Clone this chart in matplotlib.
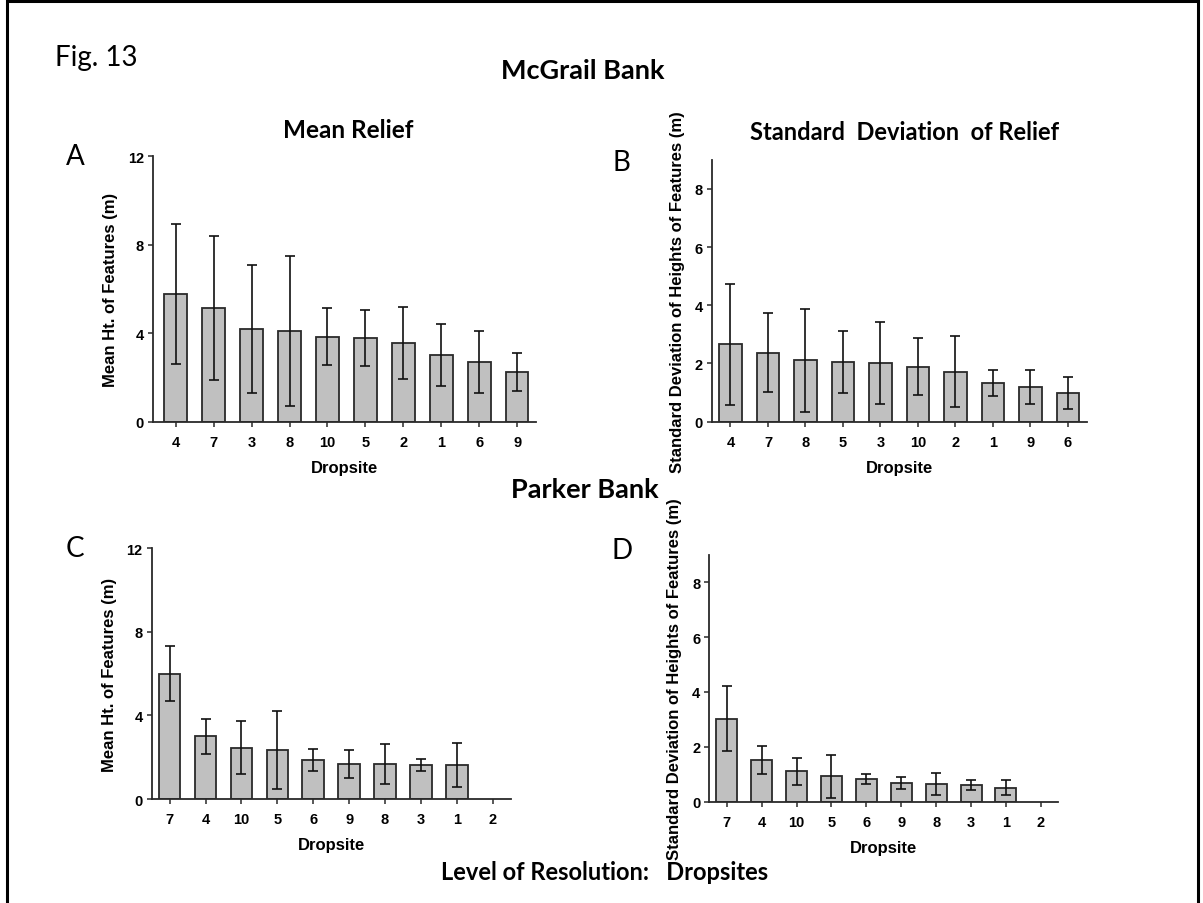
import matplotlib.pyplot as plt
import matplotlib.patches as mpatches
import numpy as np

# McGrail Bank - mean relief
mcg_mean_sites = ['4', '7', '3', '8', '10', '5', '2', '1', '6', '9']
mcg_mean = [5.78, 5.14, 4.18, 4.12, 3.85, 3.79, 3.56, 3.00, 2.71, 2.26]
mcg_mean_err = [3.17, 3.25, 2.89, 3.39, 1.28, 1.25, 1.63, 1.40, 1.41, 0.85]

# McGrail Bank - standard deviation of relief
mcg_sd_sites = ['4', '7', '8', '5', '3', '10', '2', '1', '9', '6']
mcg_sd = [2.66, 2.37, 2.11, 2.06, 2.02, 1.89, 1.72, 1.33, 1.20, 0.99]
mcg_sd_err = [2.07, 1.36, 1.77, 1.07, 1.40, 0.97, 1.22, 0.46, 0.58, 0.55]

# Parker Bank (dropsite 2 has no value)
pkr_sites = ['7', '4', '10', '5', '6', '9', '8', '3', '1', '2']
pkr_mean = [6.00, 3.00, 2.46, 2.35, 1.87, 1.68, 1.68, 1.63, 1.63, np.nan]
pkr_mean_err = [1.32, 0.84, 1.26, 1.86, 0.53, 0.65, 0.96, 0.30, 1.03, np.nan]
pkr_sd = [3.02, 1.52, 1.11, 0.92, 0.83, 0.69, 0.64, 0.60, 0.51, np.nan]
pkr_sd_err = [1.19, 0.50, 0.50, 0.77, 0.18, 0.22, 0.39, 0.19, 0.28, np.nan]

mean_label = 'Mean Ht. of Features (m)'
sd_label = 'Standard Deviation of Heights of Features (m)'

num_font = 'Liberation Sans'
txt_font = 'Lato'
edge = '#2a2a2a'

fig = plt.figure(figsize=(12.03, 9.04), dpi=100)

# frame round the figure
fig.patches.append(mpatches.Rectangle((7 / 1203, -0.01), 1191 / 1203, 1 - 2 / 904 + 0.01,
                                      transform=fig.transFigure, fill=False,
                                      edgecolor='black', linewidth=2.2))

panels = [
    # rect, sites, values, errors, ylim, yticks, xlim, ylabel
    ([0.1272, 0.5324, 0.3184, 0.2936], mcg_mean_sites, mcg_mean, mcg_mean_err,
     (0, 12), [0, 4, 8, 12], (-0.6, 9.5), mean_label),
    ([0.5916, 0.5324, 0.3117, 0.2898], mcg_sd_sites, mcg_sd, mcg_sd_err,
     (0, 9), [0, 2, 4, 6, 8], (-0.5, 9.5), sd_label),
    ([0.1261, 0.1150, 0.2984, 0.2774], pkr_sites, pkr_mean, pkr_mean_err,
     (0, 12), [0, 4, 8, 12], (-0.5, 9.5), mean_label),
    ([0.5896, 0.1121, 0.2901, 0.2730], pkr_sites, pkr_sd, pkr_sd_err,
     (0, 9), [0, 2, 4, 6, 8], (-0.5, 9.5), sd_label),
]

for rect, sites, vals, errs, ylim, yticks, xlim, ylab in panels:
    ax = fig.add_axes(rect)
    x = np.arange(len(sites))
    ax.bar(x, vals, width=0.6, color='#c0c0c0', edgecolor=edge, linewidth=1.3, zorder=2)
    ax.errorbar(x, vals, yerr=errs, fmt='none', ecolor='#111111', elinewidth=1.2,
                capsize=3.5, capthick=1.2, zorder=3)
    ax.set_xlim(xlim)
    ax.set_ylim(ylim)
    ax.set_yticks(yticks)
    ax.set_xticks(x)
    ax.set_xticklabels(sites)
    for s in ['top', 'right']:
        ax.spines[s].set_visible(False)
    for s in ['left', 'bottom']:
        ax.spines[s].set_color(edge)
        ax.spines[s].set_linewidth(1.3)
    ax.tick_params(direction='out', length=3.5, width=1.1, color=edge)
    ax.tick_params(axis='x', pad=6)
    ax.tick_params(axis='y', pad=3)
    for lab in ax.get_xticklabels() + ax.get_yticklabels():
        lab.set_fontfamily(num_font)
        lab.set_fontweight('bold')
        lab.set_fontsize(10.5)
    ax.set_xlabel('Dropsite', fontfamily=num_font, fontweight='bold', fontsize=12, labelpad=8)
    ax.set_ylabel(ylab, fontfamily=num_font, fontweight='bold', fontsize=12, labelpad=7)

# headings
fig.text(55 / 1203, 1 - 58 / 904, 'Fig. 13', fontfamily=txt_font, fontsize=20, ha='left', va='center')
fig.text(583 / 1203, 1 - 71 / 904, 'McGrail Bank', fontfamily=txt_font, fontweight='bold', fontsize=19.5,
         ha='center', va='center')
fig.text(348 / 1203, 1 - 130 / 904, 'Mean Relief', fontfamily=txt_font, fontweight='bold', fontsize=17.5,
         ha='center', va='center')
fig.text(905 / 1203, 1 - 132 / 904, 'Standard  Deviation  of Relief', fontfamily=txt_font, fontweight='bold',
         fontsize=17, ha='center', va='center')
fig.text(585 / 1203, 1 - 490 / 904, 'Parker Bank', fontfamily=txt_font, fontweight='bold', fontsize=19.5,
         ha='center', va='center')
fig.text(605 / 1203, 1 - 873 / 904, 'Level of Resolution:   Dropsites', fontfamily=txt_font,
         fontweight='bold', fontsize=17, ha='center', va='center')

# panel letters
for letter, px, py in [('A', 75, 157), ('B', 621, 163), ('C', 75, 549), ('D', 622, 551)]:
    fig.text(px / 1203, 1 - py / 904, letter, fontfamily=txt_font, fontsize=20, ha='center', va='center')

plt.savefig('out.png', dpi=100)
